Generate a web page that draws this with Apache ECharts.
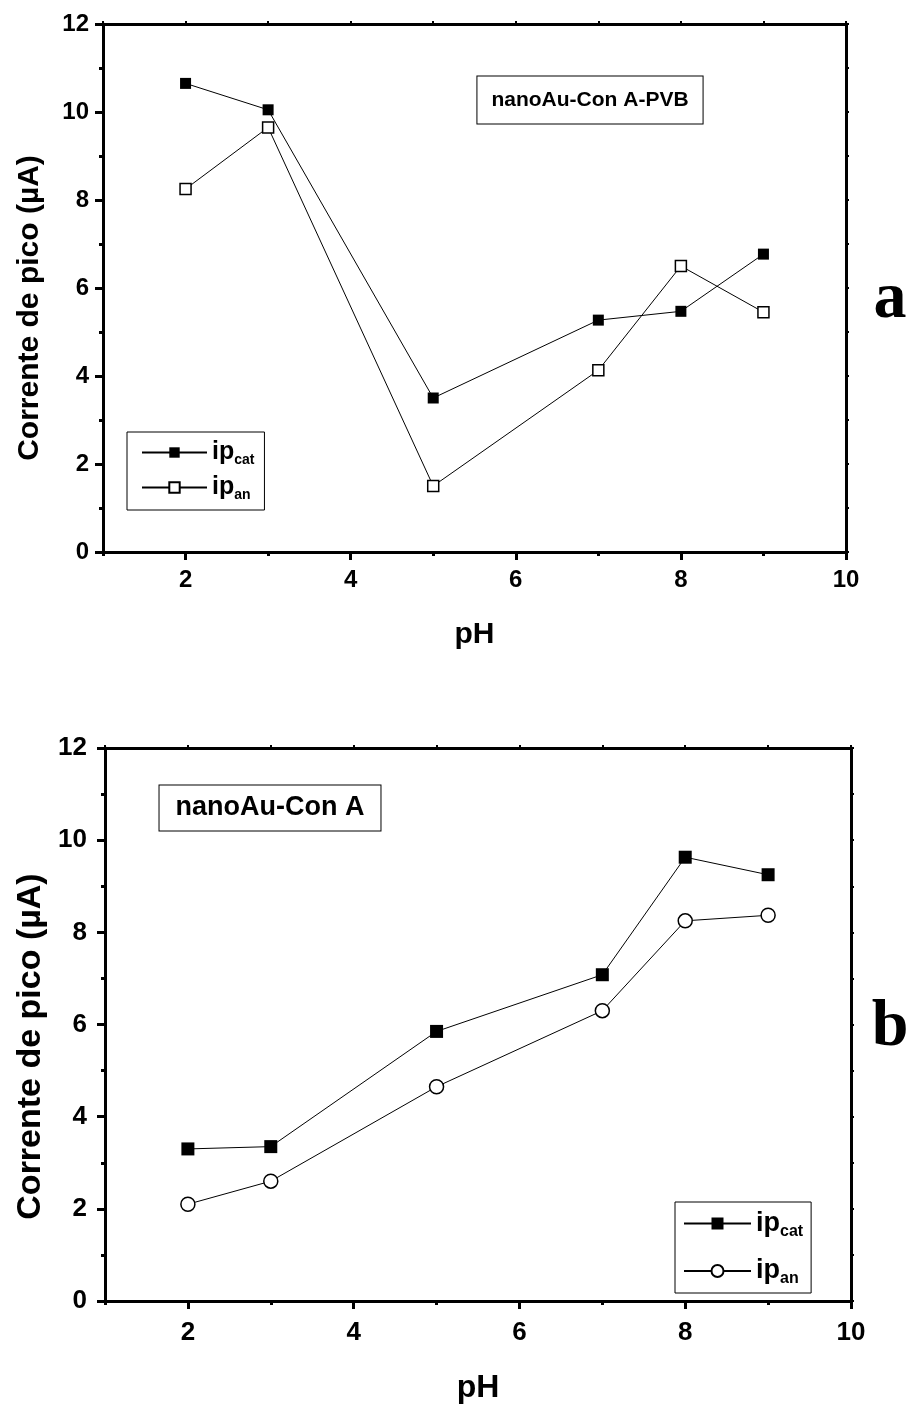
<!DOCTYPE html>
<html>
<head>
<meta charset="utf-8">
<script src="https://cdn.jsdelivr.net/npm/echarts@6/dist/echarts.min.js"></script>
<style>
  html, body { margin: 0; padding: 0; background: #fff; }
  #chart { width: 912px; height: 1405px; }
</style>
</head>
<body>
<div id="chart"></div>
<script>
// pH values and peak currents (µA)
const phA = [2, 3, 5, 7, 8, 9];
const ipCatA = [10.65, 10.05, 3.5, 5.27, 5.47, 6.77];
const ipAnA = [8.25, 9.65, 1.5, 4.13, 6.5, 5.45];

const phB = [2, 3, 5, 7, 8, 9];
const ipCatB = [3.3, 3.35, 5.85, 7.08, 9.63, 9.25];
const ipAnB = [2.1, 2.6, 4.65, 6.3, 8.25, 8.37];

const xMajorTicks = [2, 4, 6, 8, 10];
const xMinorTicks = [1, 3, 5, 7, 9];

const FONT = "'Liberation Sans', Arial, sans-serif";

const myChart = echarts.init(document.getElementById('chart'));

function pairs(xs, ys) {
  return xs.map((x, i) => [x, ys[i]]);
}

// one panel = main bottom axis, minor-tick bottom axis, top mirror axis
function xAxesFor(gridIndex, labelSize, labelMargin, nameSize, nameGap) {
  return [
    {
      gridIndex: gridIndex, type: 'value', position: 'bottom', min: 1, max: 10,
      name: 'pH', nameLocation: 'middle', nameGap: nameGap,
      nameTextStyle: { fontFamily: FONT, fontWeight: 'bold', fontSize: nameSize, color: '#000' },
      axisLine: { onZero: false, lineStyle: { color: '#000', width: 3 } },
      axisTick: { customValues: xMajorTicks, length: 8, lineStyle: { color: '#000', width: 3 } },
      axisLabel: { customValues: xMajorTicks, margin: labelMargin, fontFamily: FONT, fontWeight: 'bold', fontSize: labelSize, color: '#000' },
      splitLine: { show: false }
    },
    {
      gridIndex: gridIndex, type: 'value', position: 'bottom', min: 1, max: 10,
      axisLine: { show: false, onZero: false },
      axisTick: { customValues: xMinorTicks, length: 4, lineStyle: { color: '#000', width: 3 } },
      axisLabel: { show: false },
      splitLine: { show: false }
    },
    {
      gridIndex: gridIndex, type: 'value', position: 'top', min: 1, max: 10, interval: 1,
      axisLine: { onZero: false, lineStyle: { color: '#000', width: 3 } },
      axisTick: { length: 3, lineStyle: { color: '#000', width: 2 } },
      axisLabel: { show: false },
      splitLine: { show: false }
    }
  ];
}

function yAxesFor(gridIndex, labelSize, labelMargin, nameSize, nameGap, namePad) {
  return [
    {
      gridIndex: gridIndex, type: 'value', position: 'left', min: 0, max: 12, interval: 2,
      name: 'Corrente de pico (µA)', nameLocation: 'middle', nameGap: nameGap, nameRotate: 90,
      nameTextStyle: { fontFamily: FONT, fontWeight: 'bold', fontSize: nameSize, color: '#000', padding: namePad },
      axisLine: { onZero: false, lineStyle: { color: '#000', width: 3 } },
      axisTick: { length: 8, lineStyle: { color: '#000', width: 3 } },
      minorTick: { show: true, splitNumber: 2, length: 4, lineStyle: { color: '#000', width: 3 } },
      axisLabel: { margin: labelMargin, fontFamily: FONT, fontWeight: 'bold', fontSize: labelSize, color: '#000' },
      splitLine: { show: false },
      minorSplitLine: { show: false }
    },
    {
      gridIndex: gridIndex, type: 'value', position: 'right', min: 0, max: 12, interval: 1,
      axisLine: { onZero: false, lineStyle: { color: '#000', width: 3 } },
      axisTick: { length: 3, lineStyle: { color: '#000', width: 2 } },
      axisLabel: { show: false },
      splitLine: { show: false }
    }
  ];
}

function lineSeries(name, xi, yi, data, symbol, size, filled) {
  return {
    name: name, type: 'line', xAxisIndex: xi, yAxisIndex: yi,
    data: data, symbol: symbol, symbolSize: size, showSymbol: true,
    lineStyle: { color: '#000', width: 1 },
    itemStyle: { color: filled ? '#000' : '#fff', borderColor: '#000', borderWidth: filled ? 0 : 1.5, opacity: 1 },
    emphasis: { disabled: true },
    z: 3
  };
}

const subNames = {
  'ipcat_a': 'cat', 'ipan_a': 'an',
  'ipcat_b': 'cat', 'ipan_b': 'an'
};

function legendText(size, subSize, subDrop) {
  return {
    fontFamily: FONT, fontWeight: 'bold', color: '#000',
    rich: {
      m: { fontFamily: FONT, fontWeight: 'bold', fontSize: size, color: '#000' },
      s: { fontFamily: FONT, fontWeight: 'bold', fontSize: subSize, color: '#000', padding: [subDrop, 0, 0, 0] }
    }
  };
}

let option = {
  backgroundColor: '#fff',
  animation: false,
  grid: [
    { left: 103, top: 24, width: 743, height: 528 },
    { left: 105, top: 748, width: 746, height: 553 }
  ],
  xAxis: [].concat(
    xAxesFor(0, 24, 16, 30, 68),
    xAxesFor(1, 26, 19, 32, 71)
  ),
  yAxis: [].concat(
    yAxesFor(0, 24, 14, 30, 58, [0, 40, 0, 0]),
    yAxesFor(1, 26, 18, 34, 56, [0, 44, 0, 0])
  ),
  legend: [
    {
      data: ['ipcat_a', 'ipan_a'],
      orient: 'vertical', left: 127, top: 432,
      padding: [8, 10, 8, 14], itemGap: 8,
      itemWidth: 65, itemHeight: 13,
      borderColor: '#000', borderWidth: 1, backgroundColor: '#fff',
      selectedMode: false,
      formatter: function (name) { return '{m|ip}{s|' + subNames[name] + '}'; },
      textStyle: legendText(25, 14, 15)
    },
    {
      data: ['ipcat_b', 'ipan_b'],
      orient: 'vertical', left: 675, top: 1202,
      padding: [8, 8, 6, 8], itemGap: 18,
      itemWidth: 67, itemHeight: 15,
      borderColor: '#000', borderWidth: 1, backgroundColor: '#fff',
      selectedMode: false,
      formatter: function (name) { return '{m|ip}{s|' + subNames[name] + '}'; },
      textStyle: legendText(27, 16, 16)
    }
  ],
  graphic: [
    {
      type: 'text', x: 590, y: 100, z: 10,
      style: {
        text: 'nanoAu-Con A-PVB', font: 'bold 21px ' + FONT, fill: '#000',
        align: 'center', verticalAlign: 'middle',
        borderColor: '#000', borderWidth: 1, padding: [13, 14, 13, 14], backgroundColor: '#fff'
      }
    },
    {
      type: 'text', x: 270, y: 808, z: 10,
      style: {
        text: 'nanoAu-Con A', font: 'bold 27px ' + FONT, fill: '#000',
        align: 'center', verticalAlign: 'middle',
        borderColor: '#000', borderWidth: 1, padding: [9, 16, 9, 16], backgroundColor: '#fff'
      }
    },
    {
      type: 'text', x: 890, y: 300,
      style: { text: 'a', font: 'bold 66px "Liberation Serif", "Times New Roman", serif', fill: '#000', align: 'center', verticalAlign: 'middle' }
    },
    {
      type: 'text', x: 890, y: 1028,
      style: { text: 'b', font: 'bold 66px "Liberation Serif", "Times New Roman", serif', fill: '#000', align: 'center', verticalAlign: 'middle' }
    }
  ],
  series: [
    lineSeries('ipcat_a', 0, 0, pairs(phA, ipCatA), 'rect', 11, true),
    lineSeries('ipan_a', 0, 0, pairs(phA, ipAnA), 'rect', 11, false),
    lineSeries('ipcat_b', 3, 2, pairs(phB, ipCatB), 'rect', 13, true),
    lineSeries('ipan_b', 3, 2, pairs(phB, ipAnB), 'circle', 14, false)
  ]
};

myChart.setOption(option);
</script>
</body>
</html>
